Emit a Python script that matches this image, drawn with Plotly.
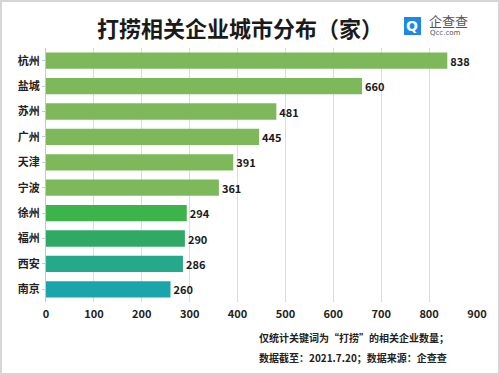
import plotly.graph_objects as go

cities = ["杭州", "盐城", "苏州", "广州", "天津", "宁波", "徐州", "福州", "西安", "南京"]
values = [838, 660, 481, 445, 391, 361, 294, 290, 286, 260]
colors = ["#7db95b", "#7db95b", "#7db95b", "#7db95b", "#7db95b", "#7db95b",
          "#3db44b", "#2eaa64", "#25a98a", "#1aa6a8"]
x_ticks = [0, 100, 200, 300, 400, 500, 600, 700, 800, 900]

FONT = "Noto Sans CJK SC"

fig = go.Figure(go.Bar(
    y=cities, x=values, orientation="h",
    marker=dict(color=colors, line=dict(width=0)),
    text=[str(v) for v in values], textposition="outside",
    textfont=dict(family=FONT, size=11, color="#1a1a1a", weight="bold"),
    cliponaxis=False, width=0.64,
))

fig.update_layout(
    width=500, height=375,
    margin=dict(l=46, r=23, t=48, b=73),
    paper_bgcolor="white", plot_bgcolor="white",
    showlegend=False,
    font=dict(family=FONT, color="#222"),
    xaxis=dict(range=[0, 900], tickvals=x_ticks, showgrid=True, gridcolor="#dcdcdc",
               gridwidth=1, zeroline=False, showline=False, automargin=False,
               tickfont=dict(family=FONT, size=11, color="#222", weight="bold"),
               ticks="", ticklen=0, ticklabelstandoff=4),
    yaxis=dict(categoryorder="array", categoryarray=cities[::-1], automargin=False,
               showline=True, linecolor="#c8c4d8", linewidth=1,
               ticks="outside", ticklen=3, tickcolor="#c8c4d8",
               tickfont=dict(family=FONT, size=11, color="#222", weight="bold"),
               showgrid=False),
    annotations=[
        dict(text="<b>打捞相关企业城市分布（家）</b>", x=240, y=27, xref="paper", yref="paper",
             showarrow=False, font=dict(family=FONT, size=22, color="#1a1a1a"),
             xanchor="center", yanchor="middle"),
        dict(text="<b>仅统计关键词为“打捞”的相关企业数量；</b>", x=257, y=337, xref="paper", yref="paper",
             showarrow=False, font=dict(family=FONT, size=10, color="#222"), xanchor="left", yanchor="middle"),
        dict(text="<b>数据截至：2021.7.20；数据来源：企查查</b>", x=257, y=357, xref="paper", yref="paper",
             showarrow=False, font=dict(family=FONT, size=10, color="#222"), xanchor="left", yanchor="middle"),
        dict(text="企查查", x=427, y=21, xref="paper", yref="paper", showarrow=False,
             font=dict(family=FONT, size=13, color="#555"), xanchor="left", yanchor="middle"),
        dict(text="Qcc.com", x=428, y=33, xref="paper", yref="paper", showarrow=False,
             font=dict(family="DejaVu Sans", size=7, color="#555"), xanchor="left", yanchor="middle"),
        dict(text="<b>Q</b>", x=412, y=26, xref="paper", yref="paper", showarrow=False,
             font=dict(family="DejaVu Sans", size=14, color="white"), xanchor="center", yanchor="middle"),
    ],
)

# convert pixel-based annotation positions to paper coords
pw = 500 - 46 - 23
ph = 375 - 48 - 73
for a in fig.layout.annotations:
    a.x = (a.x - 46) / pw
    a.y = (375 - 73 - a.y) / ph

def px_x(v):
    return (v - 46) / pw

def px_y(v):
    return (375 - 73 - v) / ph

fig.add_shape(type="rect", xref="paper", yref="paper",
              x0=px_x(404), x1=px_x(421), y0=px_y(35), y1=px_y(17),
              fillcolor="#1e88e5", line=dict(width=0), layer="below")
fig.add_shape(type="rect", xref="paper", yref="paper",
              x0=px_x(1), x1=px_x(499), y0=px_y(374), y1=px_y(1),
              fillcolor="rgba(0,0,0,0)", line=dict(color="#d6d6d6", width=2))

fig.write_html("out.html", config={"displayModeBar": False},
               post_script="document.body.style.margin='0';document.body.style.overflow='hidden';")
